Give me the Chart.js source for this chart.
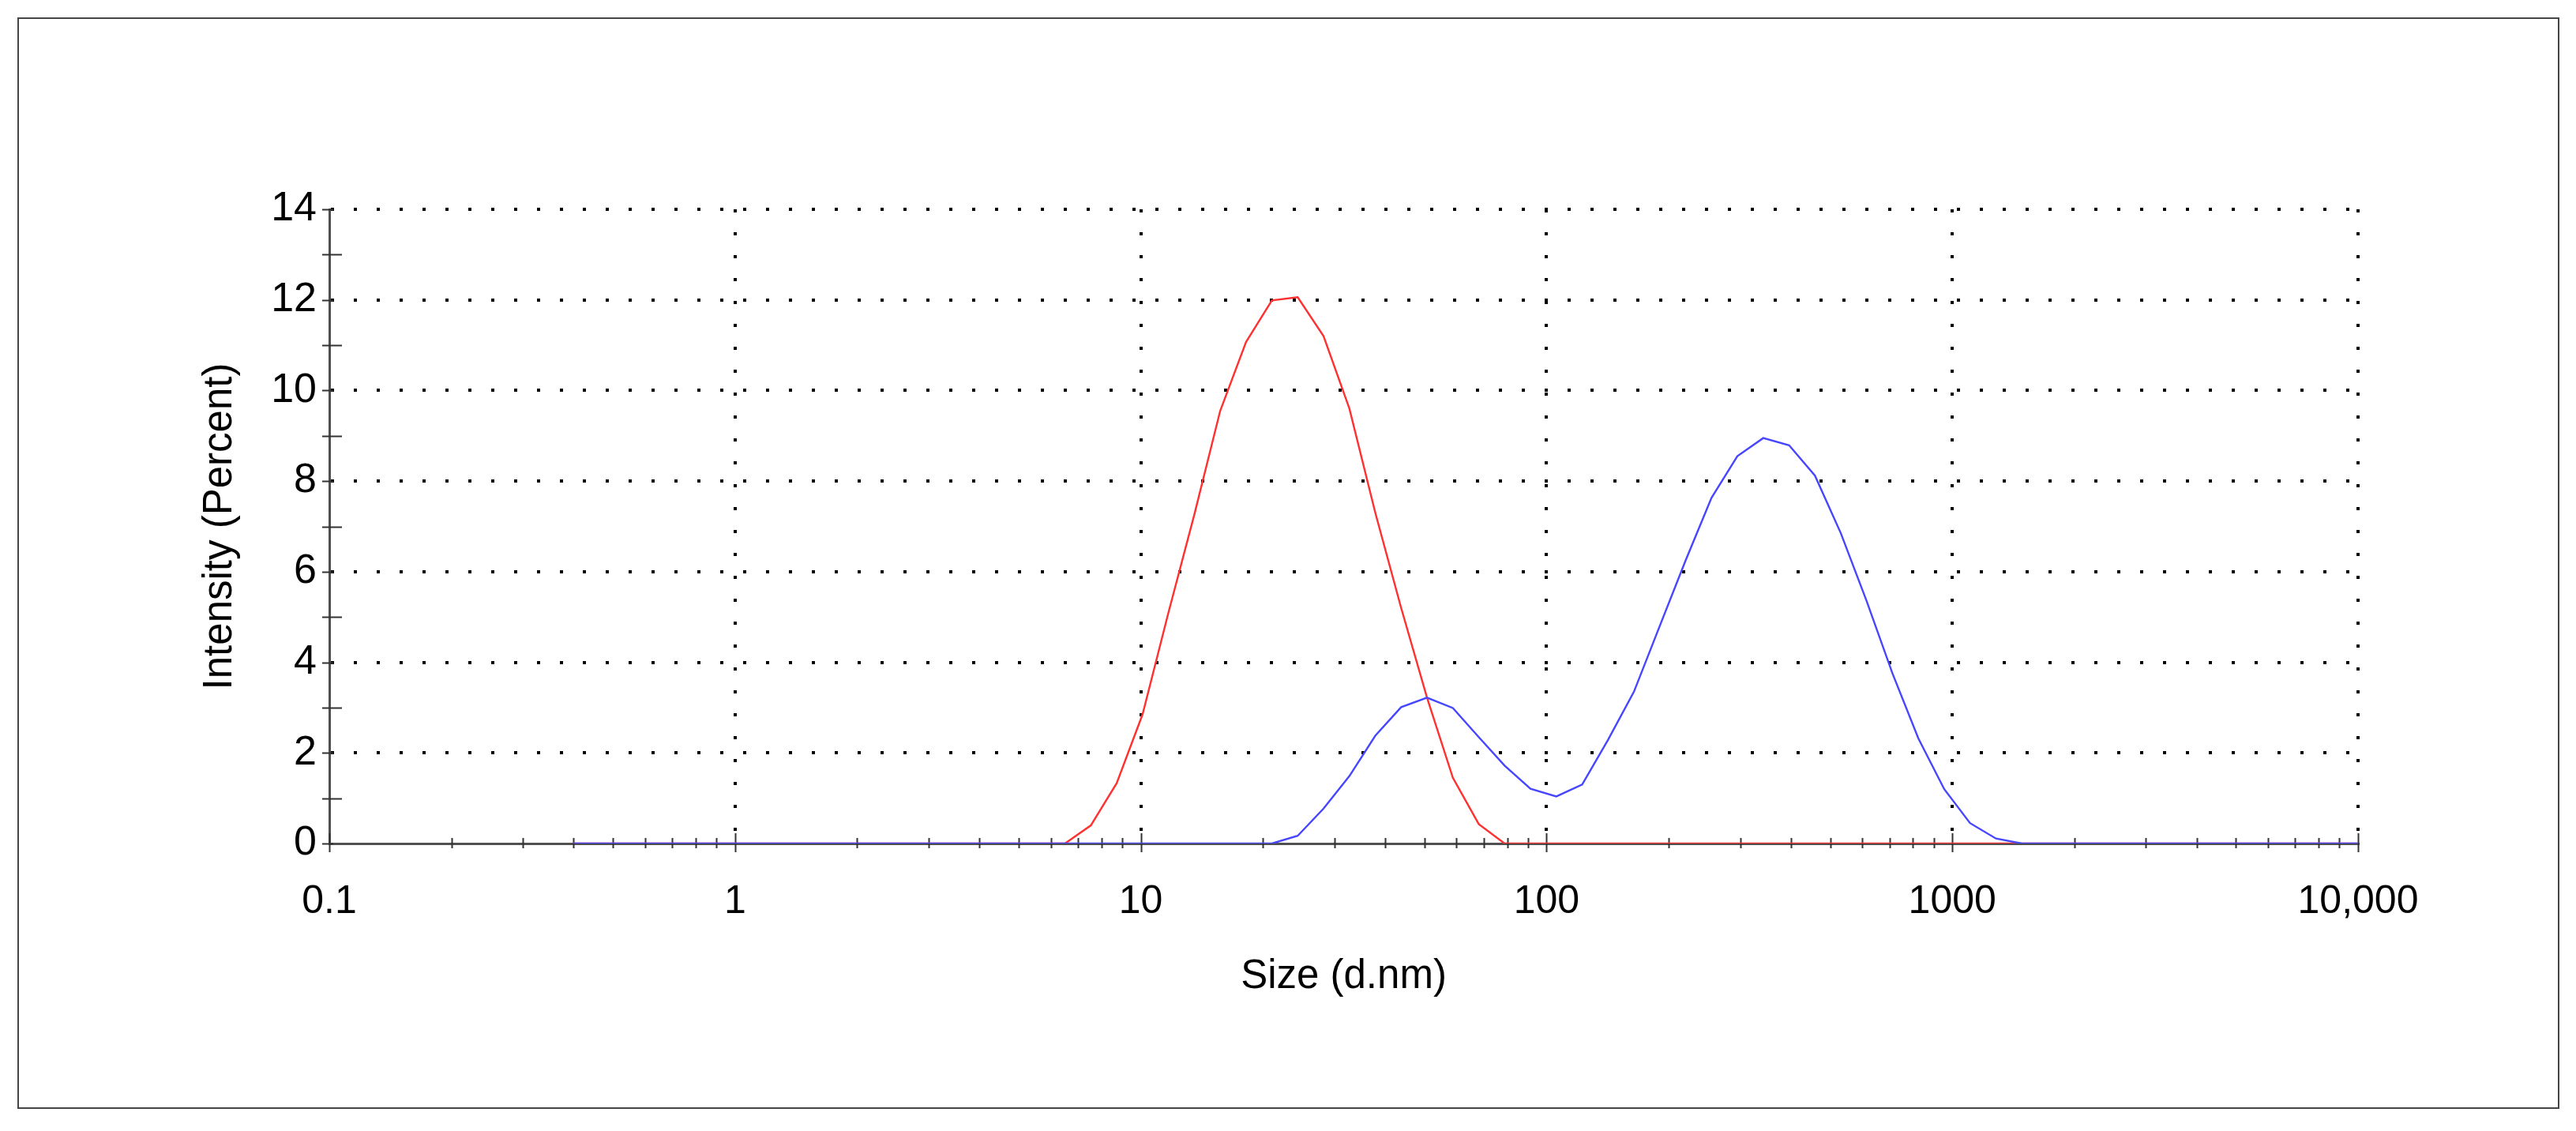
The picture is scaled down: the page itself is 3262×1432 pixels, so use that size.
<!DOCTYPE html>
<html>
<head>
<meta charset="utf-8">
<title>Size Distribution by Intensity</title>
<script src="https://cdn.jsdelivr.net/npm/chart.js"></script>
<style>
  html, body { margin: 0; padding: 0; background: #fff; }
  #wrap { position: relative; width: 3262px; height: 1432px; }
  #frame {
    position: absolute; left: 22px; top: 22px; width: 3219px; height: 1382px;
    border: 2px solid #454545; box-sizing: border-box; pointer-events: none;
  }
</style>
</head>
<body>
<div id="wrap">
  <canvas id="sizeChart" width="3262" height="1432"></canvas>
  <div id="frame"></div>
</div>
<script>
// size classes (d.nm)
const sizes = [
  0.4, 0.4632, 0.5365, 0.6213, 0.7195, 0.8332, 0.9649, 1.117, 1.294, 1.499,
  1.736, 2.01, 2.328, 2.696, 3.122, 3.615, 4.187, 4.849, 5.615, 6.503,
  7.531, 8.721, 10.1, 11.7, 13.54, 15.69, 18.17, 21.04, 24.36, 28.21,
  32.67, 37.84, 43.82, 50.75, 58.77, 68.06, 78.82, 91.28, 105.7, 122.4,
  141.8, 164.2, 190.1, 220.2, 255.0, 295.3, 342.0, 396.1, 458.7, 531.2,
  615.1, 712.4, 825.0, 955.4, 1106, 1281, 1484, 1718, 1990, 2305,
  2669, 3091, 3580, 4145, 4801, 5560, 6439, 7456, 8635, 10000
];

// intensity (%) of the red record
const redIntensity = [
  0, 0, 0, 0, 0, 0, 0, 0, 0, 0,
  0, 0, 0, 0, 0, 0, 0, 0, 0, 0,
  0.4, 1.33, 2.85, 5.1, 7.25, 9.55, 11.07, 11.99, 12.06, 11.2,
  9.6, 7.3, 5.2, 3.22, 1.45, 0.43, 0, 0, 0, 0,
  0, 0, 0, 0, 0, 0, 0, 0, 0, 0,
  0, 0, 0, 0, 0, 0, 0, 0, 0, 0,
  0, 0, 0, 0, 0, 0, 0, 0, 0, 0
];

// intensity (%) of the blue record
const blueIntensity = [
  0, 0, 0, 0, 0, 0, 0, 0, 0, 0,
  0, 0, 0, 0, 0, 0, 0, 0, 0, 0,
  0, 0, 0, 0, 0, 0, 0, 0, 0.17, 0.77,
  1.49, 2.38, 3.01, 3.22, 2.99, 2.35, 1.72, 1.21, 1.04, 1.3,
  2.29, 3.35, 4.8, 6.25, 7.63, 8.55, 8.95, 8.79, 8.12, 6.85,
  5.35, 3.75, 2.32, 1.2, 0.45, 0.11, 0, 0, 0, 0,
  0, 0, 0, 0, 0, 0, 0, 0, 0, 0
];

const xDecades = [0.1, 1, 10, 100, 1000, 10000];
const xDecadeLabels = ["0.1", "1", "10", "100", "1000", "10,000"];
const yLabelValues = [0, 2, 4, 6, 8, 10, 12, 14];

const FONT = "'Liberation Sans', Arial, sans-serif";

// minor tick positions 1..9 within every decade
function logTickValues() {
  const vals = [];
  for (let d = 0; d < xDecades.length - 1; d++) {
    for (let k = 1; k < 10; k++) {
      vals.push(+(xDecades[d] * k).toPrecision(6));
    }
  }
  vals.push(xDecades[xDecades.length - 1]);
  return vals;
}

function toPoints(values) {
  return sizes.map((s, i) => ({ x: s, y: values[i] }));
}

// tick marks that cross the axis lines, like the instrument software draws them
const crossTicks = {
  id: 'crossTicks',
  beforeDatasetsDraw(chart) {
    const ctx = chart.ctx;
    const xs = chart.scales.x;
    const ys = chart.scales.y;
    const axisY = chart.chartArea.bottom;
    const axisX = chart.chartArea.left;
    ctx.save();
    ctx.strokeStyle = '#333';
    ctx.lineWidth = 2;
    ctx.beginPath();
    xs.ticks.forEach(t => {
      const px = Math.round(xs.getPixelForValue(t.value)) + 0.5;
      const major = xDecades.includes(t.value);
      ctx.moveTo(px, axisY - (major ? 13 : 7));
      ctx.lineTo(px, axisY + (major ? 11 : 6));
    });
    for (let v = ys.min; v <= ys.max; v++) {
      const py = Math.round(ys.getPixelForValue(v)) + 0.5;
      const major = yLabelValues.includes(v);
      ctx.moveTo(axisX - 9, py);
      ctx.lineTo(axisX + (major ? 5 : 16), py);
    }
    ctx.stroke();
    ctx.restore();
  }
};

const ctx = document.getElementById('sizeChart').getContext('2d');
const chart = new Chart(ctx, {
  type: 'line',
  data: {
    datasets: [
      {
        label: 'Record 2',
        data: toPoints(blueIntensity),
        borderColor: '#4646ff',
        borderWidth: 2.4,
        pointRadius: 0,
        tension: 0
      },
      {
        label: 'Record 1',
        data: toPoints(redIntensity),
        borderColor: '#ff3030',
        borderWidth: 2.4,
        pointRadius: 0,
        tension: 0
      }
    ]
  },
  options: {
    responsive: false,
    animation: false,
    devicePixelRatio: 1,
    layout: { padding: { left: 200, right: 276, top: 265, bottom: 150 } },
    plugins: {
      legend: { display: false },
      tooltip: { enabled: false }
    },
    scales: {
      x: {
        type: 'logarithmic',
        min: 0.1,
        max: 10000,
        afterBuildTicks: scale => {
          scale.ticks = logTickValues().map(v => ({ value: v }));
        },
        afterFit: scale => { scale.height = 214; },
        ticks: {
          autoSkip: false,
          maxRotation: 0,
          padding: 44,
          color: '#000',
          font: { family: FONT, size: 50 },
          callback: value => {
            const i = xDecades.indexOf(value);
            return i >= 0 ? xDecadeLabels[i] : '';
          }
        },
        grid: {
          drawTicks: false,
          lineWidth: 4,
          color: c => (c.tick && c.tick.value > 0.1 && xDecades.includes(c.tick.value)) ? '#000' : 'rgba(0,0,0,0)'
        },
        border: { display: true, color: '#505050', width: 3, dash: [4, 25] },
        title: {
          display: true,
          text: 'Size (d.nm)',
          color: '#000',
          font: { family: FONT, size: 51 },
          padding: { top: 0, bottom: 14 }
        }
      },
      y: {
        min: 0,
        max: 14,
        afterFit: scale => { scale.width = 217; },
        ticks: {
          stepSize: 1,
          autoSkip: false,
          padding: 16,
          color: '#000',
          font: { family: FONT, size: 52 },
          callback: value => yLabelValues.includes(value) ? String(value) : ''
        },
        grid: {
          drawTicks: false,
          lineWidth: 4,
          color: c => (c.tick && c.tick.value > 0 && yLabelValues.includes(c.tick.value)) ? '#000' : 'rgba(0,0,0,0)'
        },
        border: { display: true, color: '#505050', width: 3, dash: [4, 25] },
        title: {
          display: true,
          text: 'Intensity (Percent)',
          color: '#000',
          font: { family: FONT, size: 51 },
          padding: { top: 48, bottom: 0 }
        }
      }
    }
  },
  plugins: [crossTicks]
});
</script>
</body>
</html>
